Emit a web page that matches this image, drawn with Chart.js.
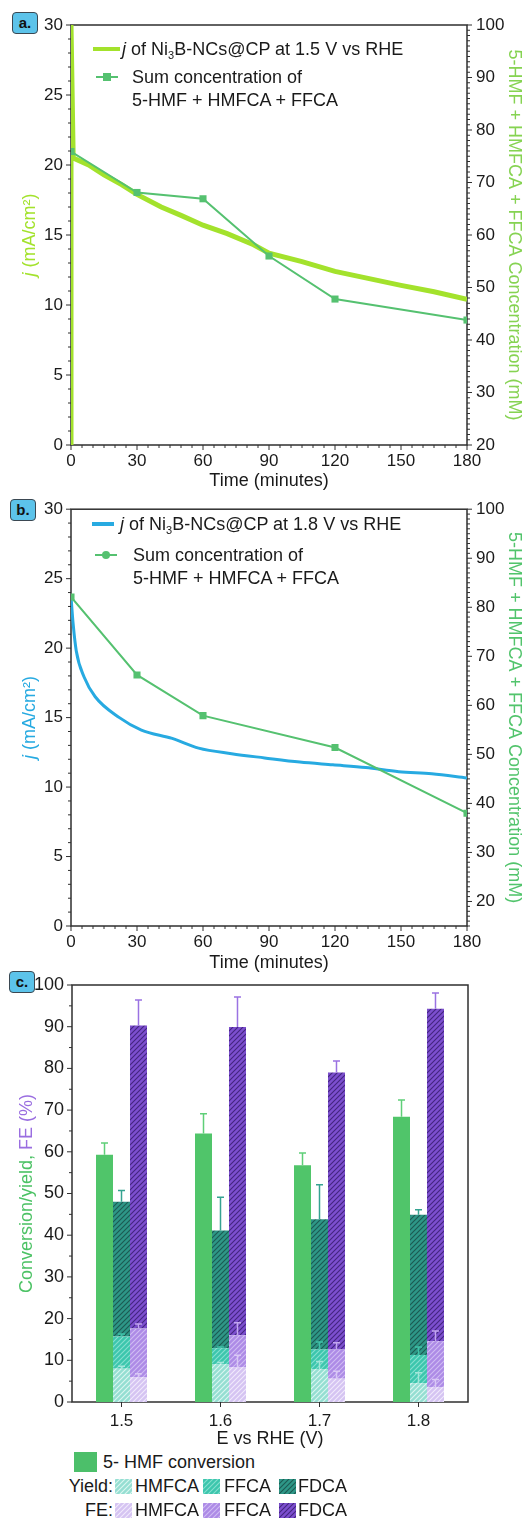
<!DOCTYPE html>
<html>
<head>
<meta charset="utf-8">
<script src="https://cdn.jsdelivr.net/npm/chart.js@4.4.0/dist/chart.umd.min.js"></script>
<style>
  body { margin: 0; background: #fff; font-family: "Liberation Sans", Arial, sans-serif; color: #1a1a1a; }
  #page { position: relative; width: 525px; height: 1519px; overflow: hidden; }
  canvas.chart { position: absolute; left: 0; }
  .tag { position: absolute; width: 24px; height: 20px; background: #5cc3ea; border: 1.5px solid #3b4852;
         border-radius: 4px; font-weight: bold; font-size: 15px; line-height: 19px; text-align: center; color: #111; }
  .leg { position: absolute; font-size: 18px; line-height: 18px; white-space: nowrap; }
  .leg sub { font-size: 11px; vertical-align: -4px; line-height: 0; }
  .bar { position: absolute; }
  .lg { position: absolute; font-size: 18px; line-height: 18px; white-space: nowrap; }
  canvas.sw { position: absolute; }
</style>
</head>
<body>
<div id="page">
  <canvas id="chartA" class="chart" width="525" height="495" style="top:0"></canvas>
  <canvas id="chartB" class="chart" width="525" height="490" style="top:490px"></canvas>
  <canvas id="chartC" class="chart" width="525" height="490" style="top:960px"></canvas>

  <div class="tag" style="left:12px;top:12px">a.</div>
  <div class="tag" style="left:10px;top:499px">b.</div>
  <div class="tag" style="left:9px;top:971px">c.</div>

  <!-- legend a -->
  <div class="bar" style="left:93px;top:47px;width:27px;height:4px;background:#a3e22c"></div>
  <div class="leg" style="left:122px;top:40px"><i>j</i> of Ni<sub>3</sub>B-NCs@CP at 1.5 V vs RHE</div>
  <div class="bar" style="left:96px;top:76px;width:22px;height:2px;background:#55c170"></div>
  <div class="bar" style="left:103px;top:73px;width:8px;height:8px;background:#55c170"></div>
  <div class="leg" style="left:132px;top:68px">Sum concentration of</div>
  <div class="leg" style="left:132px;top:91px">5-HMF + HMFCA + FFCA</div>

  <!-- legend b -->
  <div class="bar" style="left:92px;top:522px;width:22px;height:4px;background:#27aae1"></div>
  <div class="leg" style="left:120px;top:515px"><i>j</i> of Ni<sub>3</sub>B-NCs@CP at 1.8 V vs RHE</div>
  <div class="bar" style="left:95px;top:554px;width:22px;height:2px;background:#55c170"></div>
  <div class="bar" style="left:102px;top:551px;width:8px;height:8px;border-radius:4px;background:#55c170"></div>
  <div class="leg" style="left:133px;top:546px">Sum concentration of</div>
  <div class="leg" style="left:133px;top:569px">5-HMF + HMFCA + FFCA</div>

  <!-- legend c -->
  <div class="bar" style="left:74px;top:1452px;width:23px;height:20px;background:#4cbf6a"></div>
  <div class="lg" style="left:103px;top:1453px">5- HMF conversion</div>
  <div class="lg" style="left:0;width:113px;text-align:right;top:1477px">Yield:</div>
  <div class="lg" style="left:0;width:113px;text-align:right;top:1501px">FE:</div>
  <canvas class="sw" id="swY1" width="17" height="15" style="left:115px;top:1479px"></canvas>
  <canvas class="sw" id="swY2" width="17" height="15" style="left:203px;top:1479px"></canvas>
  <canvas class="sw" id="swY3" width="17" height="15" style="left:279px;top:1479px"></canvas>
  <canvas class="sw" id="swF1" width="17" height="15" style="left:115px;top:1503px"></canvas>
  <canvas class="sw" id="swF2" width="17" height="15" style="left:203px;top:1503px"></canvas>
  <canvas class="sw" id="swF3" width="17" height="15" style="left:279px;top:1503px"></canvas>
  <div class="lg" style="left:135px;top:1477px">HMFCA</div>
  <div class="lg" style="left:224px;top:1477px">FFCA</div>
  <div class="lg" style="left:298px;top:1477px">FDCA</div>
  <div class="lg" style="left:135px;top:1501px">HMFCA</div>
  <div class="lg" style="left:224px;top:1501px">FFCA</div>
  <div class="lg" style="left:298px;top:1501px">FDCA</div>
</div>

<script>
// panel a: current density at 1.5 V and summed concentration
const timeA = [0, 0, 1, 8, 15, 23, 30, 41, 50, 60, 71, 83, 90, 105, 120, 135, 150, 165, 180];
const jA = [0, 30, 20.5, 20.0, 19.3, 18.6, 17.9, 17.0, 16.4, 15.7, 15.1, 14.3, 13.7, 13.1, 12.4, 11.9, 11.4, 10.95, 10.4];
const timeConcA = [0, 30, 60, 90, 120, 180];
const concA = [75.9, 68.1, 66.9, 56.0, 47.8, 43.8];

// panel b: current density at 1.8 V and summed concentration
const timeB = [0, 1, 2.4, 6, 11, 22, 32, 46, 58, 73, 88, 104, 119, 134, 149, 164, 180];
const jB = [23.7, 21.7, 19.8, 17.9, 16.5, 15.0, 14.1, 13.5, 12.8, 12.4, 12.1, 11.8, 11.6, 11.4, 11.1, 10.95, 10.65];
const timeConcB = [0, 30, 60, 120, 180];
const concB = [82.1, 66.2, 57.9, 51.4, 38.0];

// panel c: conversion, yields and FE per potential (stacked segments)
const potentials = ['1.5', '1.6', '1.7', '1.8'];
const conversion = [59.3, 64.4, 56.8, 68.4];
const conversionErr = [2.8, 4.7, 2.9, 4.0];
const yieldHMFCA = [8.0, 9.1, 7.9, 4.5];
const yieldHMFCAErr = [0.6, 0.4, 1.8, 2.5];
const yieldFFCA = [7.7, 3.8, 4.7, 6.8];
const yieldFFCAErr = [0.6, 0.3, 1.8, 1.9];
const yieldFDCA = [32.3, 28.2, 31.2, 33.6];
const yieldFDCAErr = [2.7, 8.0, 8.3, 1.2];
const feHMFCA = [5.9, 8.3, 5.6, 3.5];
const feHMFCAErr = [0.9, 2.9, 1.8, 1.9];
const feFFCA = [11.7, 7.7, 7.0, 11.1];
const feFFCAErr = [1.1, 3.0, 1.6, 2.4];
const feFDCA = [72.7, 73.9, 66.4, 79.7];
const feFDCAErr = [6.1, 7.2, 2.8, 3.8];

const FONT = '"Liberation Sans", Arial, sans-serif';
Chart.defaults.font.family = FONT;
Chart.defaults.color = '#1a1a1a';

const pts = (xs, ys) => xs.map((x, i) => ({ x: x, y: ys[i] }));

// frame round the plot area plus major/minor tick marks
const frameTicks = {
    id: 'frameTicks',
    beforeDatasetsDraw(chart, args, opts) {
        const { ctx, chartArea: a } = chart;
        ctx.save();
        ctx.strokeStyle = '#2f2f2f';
        ctx.lineWidth = 1;
        for (const ax of opts.axes) {
            const s = chart.scales[ax.id];
            const marks = [];
            if (ax.category) {
                s.ticks.forEach((t, i) => marks.push([s.getPixelForTick(i), true]));
            } else {
                const n = Math.round((s.max - s.min) / ax.minor);
                for (let k = 0; k <= n; k++) {
                    const v = s.min + k * ax.minor;
                    marks.push([s.getPixelForValue(v), Math.abs(v / ax.major - Math.round(v / ax.major)) < 1e-6]);
                }
            }
            ctx.beginPath();
            marks.forEach(([p, major]) => {
                const len = major ? 5 : 3;
                if (ax.side === 'left') { ctx.moveTo(a.left, p); ctx.lineTo(a.left - len, p); }
                if (ax.side === 'right') { ctx.moveTo(a.right, p); ctx.lineTo(a.right + len, p); }
                if (ax.side === 'bottom') { ctx.moveTo(p, a.bottom); ctx.lineTo(p, a.bottom + len); }
            });
            ctx.stroke();
        }
        ctx.lineWidth = 1.5;
        ctx.strokeRect(a.left, a.top, a.right - a.left, a.bottom - a.top);
        ctx.restore();
    }
};

// rotated axis title made of several styled pieces
const richTitle = {
    id: 'richTitle',
    afterDraw(chart, args, opts) {
        const { ctx, chartArea } = chart;
        ctx.save();
        ctx.translate(opts.x, (chartArea.top + chartArea.bottom) / 2);
        ctx.rotate(-Math.PI / 2);
        ctx.textBaseline = 'middle';
        let total = 0;
        opts.parts.forEach(p => { ctx.font = p.font; total += ctx.measureText(p.text).width; });
        let x = -total / 2;
        opts.parts.forEach(p => {
            ctx.font = p.font;
            ctx.fillStyle = p.color;
            ctx.fillText(p.text, x, 0);
            x += ctx.measureText(p.text).width;
        });
        ctx.restore();
    }
};

// one-sided error bars on top of each bar segment
const errorBars = {
    id: 'errorBars',
    afterDatasetsDraw(chart) {
        const { ctx } = chart;
        const y = chart.scales.y;
        chart.data.datasets.forEach((ds, di) => {
            if (!ds.errors) return;
            const meta = chart.getDatasetMeta(di);
            ctx.save();
            ctx.strokeStyle = ds.errorColor;
            ctx.lineWidth = 1.5;
            meta.data.forEach((bar, i) => {
                const len = y.getPixelForValue(0) - y.getPixelForValue(ds.errors[i]);
                const top = bar.y - len;
                ctx.beginPath();
                ctx.moveTo(bar.x, bar.y);
                ctx.lineTo(bar.x, top);
                ctx.moveTo(bar.x - 3.5, top);
                ctx.lineTo(bar.x + 3.5, top);
                ctx.stroke();
            });
            ctx.restore();
        });
    }
};

function hatch(ctx, bg, line) {
    const s = 5;
    const c = document.createElement('canvas');
    c.width = c.height = s;
    const g = c.getContext('2d');
    g.fillStyle = bg;
    g.fillRect(0, 0, s, s);
    g.strokeStyle = line;
    g.lineWidth = 1.1;
    g.beginPath();
    g.moveTo(0, s); g.lineTo(s, 0);
    g.moveTo(-1, 1); g.lineTo(1, -1);
    g.moveTo(s - 1, s + 1); g.lineTo(s + 1, s - 1);
    g.stroke();
    return ctx.createPattern(c, 'repeat');
}

const HATCH = {
    yH: ['#95ded2', '#dcf6f1'],
    yF: ['#3cc6ad', '#86e0cf'],
    yD: ['#2e9787', '#1c5a51'],
    fH: ['#d5c4f2', '#f1eafc'],
    fF: ['#ad8be6', '#d0bdf3'],
    fD: ['#7c4fcf', '#43257f']
};

function timeChart(id, cfg) {
    return new Chart(document.getElementById(id), {
        type: 'line',
        data: {
            datasets: [
                {
                    data: pts(cfg.t, cfg.j), yAxisID: 'y', order: 1,
                    borderColor: cfg.jColor, borderWidth: cfg.jWidth, pointRadius: 0,
                    tension: 0, cubicInterpolationMode: cfg.smooth ? 'monotone' : 'default'
                },
                {
                    data: pts(cfg.tc, cfg.c), yAxisID: 'y2', order: 0,
                    borderColor: '#55c170', borderWidth: 2, pointStyle: 'rect', pointRadius: 5,
                    pointBackgroundColor: '#55c170', pointBorderWidth: 0
                }
            ]
        },
        options: {
            responsive: false,
            animation: false,
            layout: { padding: { top: cfg.padTop, left: 0, right: 0, bottom: 0 } },
            plugins: {
                legend: { display: false },
                tooltip: { enabled: false },
                frameTicks: {
                    axes: [
                        { id: 'x', major: 30, minor: 5, side: 'bottom' },
                        { id: 'y', major: 5, minor: 1, side: 'left' },
                        { id: 'y2', major: 10, minor: 1, side: 'right' }
                    ]
                },
                richTitle: {
                    x: 30,
                    parts: [
                        { text: 'j', font: 'italic 18px ' + FONT, color: cfg.jTitleColor },
                        { text: ' (mA/cm²)', font: '18px ' + FONT, color: cfg.jTitleColor }
                    ]
                }
            },
            scales: {
                x: {
                    type: 'linear', min: 0, max: 180,
                    grid: { display: false, drawTicks: false }, border: { display: false },
                    ticks: { stepSize: 30, padding: 6, font: { size: 17 }, maxRotation: 0 },
                    title: { display: true, text: 'Time (minutes)', font: { size: 18 }, color: '#1a1a1a',
                             padding: { top: 0, bottom: cfg.titlePad } },
                    afterFit: s => { s.height = cfg.xHeight; }
                },
                y: {
                    position: 'left', min: 0, max: 30,
                    grid: { display: false, drawTicks: false }, border: { display: false },
                    ticks: { stepSize: 5, padding: 8, font: { size: 17 } },
                    afterFit: s => { s.width = 71; }
                },
                y2: {
                    position: 'right', min: cfg.y2min, max: 100,
                    grid: { display: false, drawTicks: false }, border: { display: false },
                    ticks: { stepSize: 10, padding: 9, font: { size: 17 }, includeBounds: false },
                    title: { display: true, text: '5-HMF + HMFCA + FFCA Concentration (mM)',
                             font: { size: 18 }, color: cfg.concTitleColor, padding: 0 },
                    afterFit: s => { s.width = 58; }
                }
            }
        },
        plugins: [frameTicks, richTitle]
    });
}

timeChart('chartA', {
    t: timeA, j: jA, tc: timeConcA, c: concA, smooth: false,
    jColor: '#a3e22c', jWidth: 5, jTitleColor: '#a3e22c', concTitleColor: '#86d352',
    y2min: 20, padTop: 25, xHeight: 50, titlePad: 3
});

timeChart('chartB', {
    t: timeB, j: jB, tc: timeConcB, c: concB, smooth: true,
    jColor: '#27aae1', jWidth: 3, jTitleColor: '#27aae1', concTitleColor: '#52c46c',
    y2min: 15, padTop: 18, xHeight: 54, titlePad: 6
});

const ctxC = document.getElementById('chartC').getContext('2d');

function barSet(data, stack, fill, errors, errorColor) {
    return {
        data: data, stack: stack, backgroundColor: fill, borderWidth: 0,
        errors: errors, errorColor: errorColor
    };
}

new Chart(ctxC, {
    type: 'bar',
    data: {
        labels: potentials,
        datasets: [
            barSet(conversion, 'conv', '#50c56a', conversionErr, '#5fcf78'),
            barSet(yieldHMFCA, 'yield', hatch(ctxC, ...HATCH.yH), yieldHMFCAErr, '#a4e6da'),
            barSet(yieldFFCA, 'yield', hatch(ctxC, ...HATCH.yF), yieldFFCAErr, '#3fc2a8'),
            barSet(yieldFDCA, 'yield', hatch(ctxC, ...HATCH.yD), yieldFDCAErr, '#35a391'),
            barSet(feHMFCA, 'fe', hatch(ctxC, ...HATCH.fH), feHMFCAErr, '#d9c8f5'),
            barSet(feFFCA, 'fe', hatch(ctxC, ...HATCH.fF), feFFCAErr, '#c2a6ef'),
            barSet(feFDCA, 'fe', hatch(ctxC, ...HATCH.fD), feFDCAErr, '#9a72e2')
        ]
    },
    options: {
        responsive: false,
        animation: false,
        layout: { padding: { top: 25, left: 0, right: 57, bottom: 0 } },
        datasets: { bar: { categoryPercentage: 0.515, barPercentage: 1 } },
        plugins: {
            legend: { display: false },
            tooltip: { enabled: false },
            frameTicks: {
                axes: [
                    { id: 'x', category: true, side: 'bottom' },
                    { id: 'y', major: 10, minor: 5, side: 'left' }
                ]
            },
            richTitle: {
                x: 27,
                parts: [
                    { text: 'Conversion/yield, ', font: '18px ' + FONT, color: '#4cc265' },
                    { text: 'FE (%)', font: '18px ' + FONT, color: '#9a6ee0' }
                ]
            }
        },
        scales: {
            x: {
                stacked: true,
                grid: { display: false, drawTicks: false }, border: { display: false },
                ticks: { padding: 9, font: { size: 17 } },
                title: { display: true, text: 'E vs RHE (V)', font: { size: 18 }, color: '#1a1a1a',
                         padding: { top: 0, bottom: 0 } },
                afterFit: s => { s.height = 48; }
            },
            y: {
                stacked: true, min: 0, max: 100,
                grid: { display: false, drawTicks: false }, border: { display: false },
                ticks: { stepSize: 10, padding: 8, font: { size: 18 } },
                afterFit: s => { s.width = 72; }
            }
        }
    },
    plugins: [frameTicks, richTitle, errorBars]
});

// hatched legend swatches for panel c
[['swY1', 'yH'], ['swY2', 'yF'], ['swY3', 'yD'], ['swF1', 'fH'], ['swF2', 'fF'], ['swF3', 'fD']].forEach(([id, key]) => {
    const cv = document.getElementById(id);
    const g = cv.getContext('2d');
    g.fillStyle = hatch(g, ...HATCH[key]);
    g.fillRect(0, 0, cv.width, cv.height);
});
</script>
</body>
</html>
